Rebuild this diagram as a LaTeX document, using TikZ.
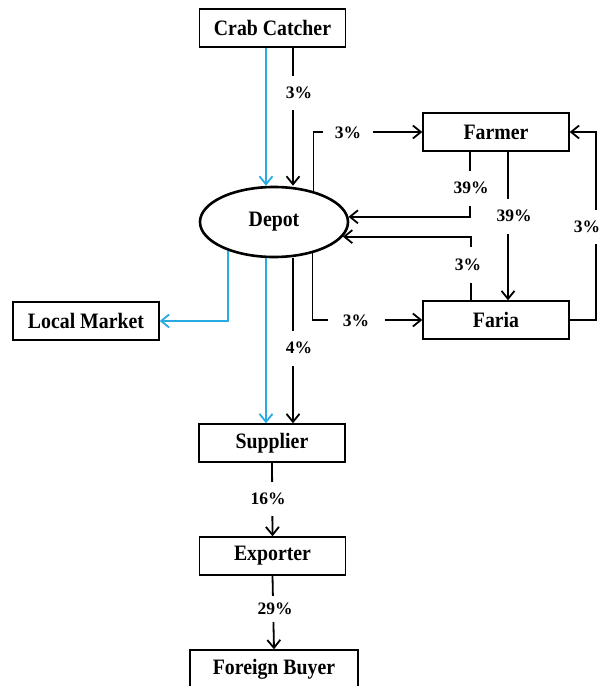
\documentclass[tikz,border=0pt]{standalone}
\usepackage{fontspec}
\setmainfont{Liberation Serif}
\newfontfamily\nodefont[FakeStretch=0.9]{Liberation Serif}
\usetikzlibrary{arrows.meta,shapes.geometric}
\definecolor{flowblue}{RGB}{41,170,225}
\tikzset{
  box/.style={draw, line width=1.4pt, minimum width=146pt, minimum height=38pt, inner sep=0pt,
    font=\nodefont\fontsize{22}{24}\selectfont\bfseries},
  conn/.style={line width=1.8pt, -{Straight Barb[length=8pt,width=13pt,line width=1.8pt]}},
  bconn/.style={conn, draw=flowblue},
  lab/.style={fill=white, inner sep=0pt, font=\fontsize{17.5}{20}\selectfont\bfseries}
}
\begin{document}
\begin{tikzpicture}[x=1pt,y=-1pt]
\useasboundingbox (0,0) rectangle (602,686);
% nodes
\node[box] (cc) at (272.5,28) {Crab Catcher};
\node[ellipse, draw, line width=2.6pt, minimum width=148pt, minimum height=70pt, inner sep=0pt,
  font=\nodefont\fontsize{22}{24}\selectfont\bfseries] (depot) at (274,222) {Depot};
\node[box] (farmer) at (496,132) {Farmer};
\node[box] (faria) at (496,320) {Faria};
\node[box] (lm) at (86,321) {Local Market};
\node[box] (sup) at (272,443) {Supplier};
\node[box] (exp) at (272.5,556) {Exporter};
\node[box, minimum width=168pt] (fb) at (274,669) {Foreign Buyer};
% x positions
\coordinate (xb) at (266,0);
\coordinate (xk) at (293,0);
\coordinate (xf1) at (470,0);
\coordinate (xf2) at (508,0);
\coordinate (xf3) at (471,0);
\coordinate (xr) at (596,0);
% connectors
\draw[bconn] (cc.south -| xb) -- (depot.north -| xb);
\draw[conn] (cc.south -| xk) -- (depot.north -| xk);
\draw[conn] (depot.38) |- (farmer.west);
\draw[conn] (farmer.south -| xf1) |- (depot.4);
\draw[conn] (farmer.south -| xf2) -- (faria.north -| xf2);
\draw[conn] (faria.north -| xf3) |- (depot.-12.6);
\draw[conn] (faria.east) -- (faria.east -| xr) -- (farmer.east -| xr) -- (farmer.east);
\draw[conn] (depot.-39) |- (faria.west);
\draw[bconn] (depot.-148) |- (lm.east);
\draw[bconn] (depot.south -| xb) -- (sup.north -| xb);
\draw[conn] (depot.south -| xk) -- (sup.north -| xk);
\draw[conn] (sup.south) -- (exp.north);
\draw[conn] (exp.south) -- (fb.north);
% labels
\node[lab, minimum height=34pt] (l1) at (299,93) {3\%};
\node[lab, minimum width=50pt] (l2) at (348,133) {3\%};
\node[lab, minimum height=35pt] (l3) at (471,188) {39\%};
\node[lab, minimum height=35pt] (l4) at (514,216) {39\%};
\node[lab, minimum height=36pt] (l5) at (468,265) {3\%};
\node[lab, minimum height=34pt] (l6) at (587,227) {3\%};
\node[lab, minimum width=57pt] (l7) at (356,321) {3\%};
\node[lab, minimum height=35pt] (l8) at (299,348) {4\%};
\node[lab, minimum height=34pt] (l9) at (268,499) {16\%};
\node[lab, minimum height=26pt] (l10) at (275,609) {29\%};
\end{tikzpicture}
\end{document}
